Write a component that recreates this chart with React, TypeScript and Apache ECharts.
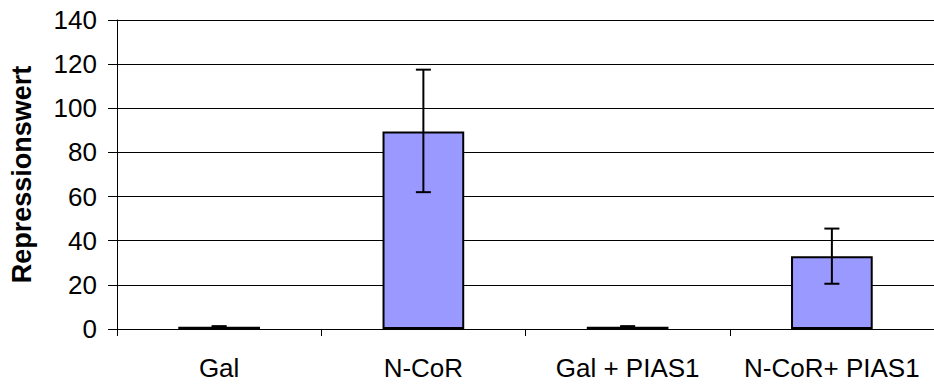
import React, { useEffect, useRef } from "react";
import * as echarts from "echarts";

const categories = ["Gal", "N-CoR", "Gal + PIAS1", "N-CoR+ PIAS1"];
const values = [1, 89.5, 1, 33];
const errLow = [0.7, 62, 0.7, 20.5];
const errHigh = [1.3, 117.5, 1.3, 45.5];
const yTicks = { min: 0, max: 140, interval: 20 };

export default function App() {
  const ref = useRef<HTMLDivElement>(null);
  useEffect(() => {
    document.body.style.margin = "0";
    const chart = echarts.init(ref.current!, null, { renderer: "svg" });
    const errData = categories.map((_, i) => [i, errLow[i], errHigh[i]]);
    chart.setOption({
      animation: false,
      backgroundColor: "#ffffff",
      grid: { left: 116, top: 20, width: 827, height: 309, containLabel: false },
      xAxis: {
        type: "category",
        data: categories,
        boundaryGap: true,
        axisLine: { show: true, lineStyle: { color: "#000", width: 1 } },
        axisTick: { show: true, length: 7, lineStyle: { color: "#000" } },
        axisLabel: {
          color: "#000",
          fontFamily: "Liberation Sans, Arial, sans-serif",
          fontSize: 26,
          margin: 26,
          interval: 0,
          hideOverlap: false,
        },
        splitLine: { show: false },
      },
      yAxis: {
        type: "value",
        min: yTicks.min,
        max: yTicks.max,
        interval: yTicks.interval,
        name: "Repressionswert",
        nameLocation: "middle",
        nameGap: 82,
        nameRotate: 90,
        nameTextStyle: {
          color: "#000",
          fontFamily: "Liberation Sans, Arial, sans-serif",
          fontSize: 27,
          fontWeight: "bold",
        },
        axisLine: { show: true, lineStyle: { color: "#000", width: 1 } },
        axisTick: { show: true, length: 9, lineStyle: { color: "#000" } },
        axisLabel: {
          color: "#000",
          fontFamily: "Liberation Sans, Arial, sans-serif",
          fontSize: 26,
          margin: 20,
        },
        splitLine: { show: true, lineStyle: { color: "#000", width: 1 } },
      },
      series: [
        {
          type: "bar",
          data: values,
          barWidth: "40%",
          itemStyle: { color: "#9999ff", borderColor: "#000", borderWidth: 2 },
        },
        {
          type: "custom",
          data: errData,
          z: 10,
          renderItem: (params: any, api: any) => {
            const i = api.value(0);
            const lo = api.coord([i, api.value(1)]);
            const hi = api.coord([i, api.value(2)]);
            const hw = 7.5;
            const style = { stroke: "#000", lineWidth: 2 };
            return {
              type: "group",
              children: [
                { type: "line", shape: { x1: hi[0], y1: hi[1], x2: lo[0], y2: lo[1] }, style },
                { type: "line", shape: { x1: hi[0] - hw, y1: hi[1], x2: hi[0] + hw, y2: hi[1] }, style },
                { type: "line", shape: { x1: lo[0] - hw, y1: lo[1], x2: lo[0] + hw, y2: lo[1] }, style },
              ],
            };
          },
        },
      ],
    });
    return () => chart.dispose();
  }, []);
  return <div ref={ref} style={{ width: 934, height: 385 }} />;
}
